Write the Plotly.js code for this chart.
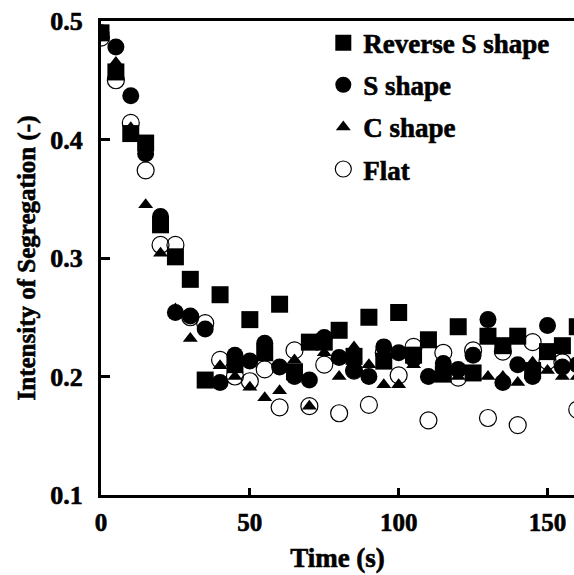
<!DOCTYPE html>
<html>
<head>
<meta charset="utf-8">
<script src="https://cdn.plot.ly/plotly-3.0.1.min.js"></script>
<style>
html,body{margin:0;padding:0;background:#fff;}
#chart{width:574px;height:575px;}
#chart svg text{stroke:#000;stroke-width:0.6px;}
</style>
</head>
<body>
<div id="chart"></div>
<script>
var time = [0,5,10,15,20,25,30,35,40,45,50,55,60,65,70,75,80,85,90,95,100,105,110,115,120,125,130,135,140,145,150,155,160];
var reverseS = [0.490,0.457,0.405,0.397,0.328,0.301,0.282,0.197,0.269,0.210,0.248,0.220,0.261,0.204,0.229,0.229,0.239,0.217,0.250,0.213,0.254,0.218,0.231,0.202,0.242,0.203,0.234,0.226,0.234,0.205,0.221,0.226,0.242];
var sShape = [0.490,0.478,0.437,0.388,0.335,0.254,0.251,0.240,0.195,0.218,0.213,0.228,0.208,0.200,0.197,0.233,0.216,0.205,0.200,0.225,0.220,0.215,0.200,0.211,0.206,0.218,0.248,0.195,0.210,0.200,0.243,0.208,0.210];
var cShape = [0.488,0.465,0.410,0.345,0.304,0.257,0.232,0.240,0.209,0.200,0.191,0.182,0.188,0.214,0.175,0.220,0.200,0.225,0.210,0.193,0.193,0.210,0.200,0.205,0.200,0.200,0.200,0.200,0.195,0.212,0.205,0.200,0.200];
var flat = [0.486,0.450,0.414,0.374,0.311,0.311,0.250,0.245,0.214,0.200,0.196,0.206,0.174,0.222,0.175,0.210,0.169,0.205,0.176,0.220,0.201,0.225,0.163,0.220,0.199,0.222,0.165,0.221,0.159,0.229,0.213,0.212,0.172];
var seriesNames = ['Reverse S shape','S shape','C shape','Flat'];
var xTicks = [0,50,100,150];
var yTicks = [0.1,0.2,0.3,0.4,0.5];

var font = 'Liberation Serif';
function b(s){ return '<b>' + s + '</b>'; }
var traces = [
  {x: time, y: reverseS, name: b(seriesNames[0]), legendgroup: 'a', mode: 'markers', type: 'scatter',
   marker: {symbol: 'square', size: 17, color: '#000'}},
  {x: time, y: sShape, name: b(seriesNames[1]), legendgroup: 'b', mode: 'markers', type: 'scatter',
   marker: {symbol: 'circle', size: 17, color: '#000'}},
  {x: time, y: cShape, name: b(seriesNames[2]), legendgroup: 'c', mode: 'markers', type: 'scatter',
   marker: {symbol: 'triangle-up', size: 13, color: '#000'}},
  {x: time, y: flat, name: b(seriesNames[3]), legendgroup: 'd', mode: 'markers', type: 'scatter',
   marker: {symbol: 'circle-open', size: 17, color: '#000', line: {width: 1.2, color: '#000'}}}
];

var layout = {
  width: 574, height: 575,
  margin: {l: 101, r: 0, t: 21, b: 80, pad: 0},
  paper_bgcolor: '#fff', plot_bgcolor: '#fff',
  showlegend: true,
  legend: {x: 0.47, y: 1.005, xanchor: 'left', yanchor: 'top', bgcolor: 'rgba(0,0,0,0)',
           traceorder: 'grouped', tracegroupgap: 4,
           font: {family: font, size: 27, color: '#000', weight: 700}, itemsizing: 'trace'},
  xaxis: {
    range: [0, 158.9], tickvals: xTicks, ticktext: xTicks.map(function(v){return b(String(v));}),
    showline: true, linecolor: '#000', linewidth: 3, mirror: true,
    ticks: 'inside', ticklen: 7, tickwidth: 3, tickcolor: '#000',
    showgrid: false, zeroline: false, ticklabelstandoff: 3,
    tickfont: {family: font, size: 25, color: '#000', weight: 700},
    title: {text: b('Time (s)'), font: {family: font, size: 27, color: '#000', weight: 700}, standoff: 14}
  },
  yaxis: {
    range: [0.1, 0.5], tickvals: yTicks, ticktext: yTicks.map(function(v){return b(v.toFixed(1));}),
    showline: true, linecolor: '#000', linewidth: 3,
    ticks: 'inside', ticklen: 9, tickwidth: 3, tickcolor: '#000',
    showgrid: false, zeroline: false, ticklabelstandoff: 10,
    tickfont: {family: font, size: 26, color: '#000', weight: 700},
    title: {text: b('Intensity of Segregation (-)'), font: {family: font, size: 25, color: '#000', weight: 700}, standoff: 8}
  }
};

Plotly.newPlot('chart', traces, layout, {displayModeBar: false, staticPlot: true});
</script>
</body>
</html>
